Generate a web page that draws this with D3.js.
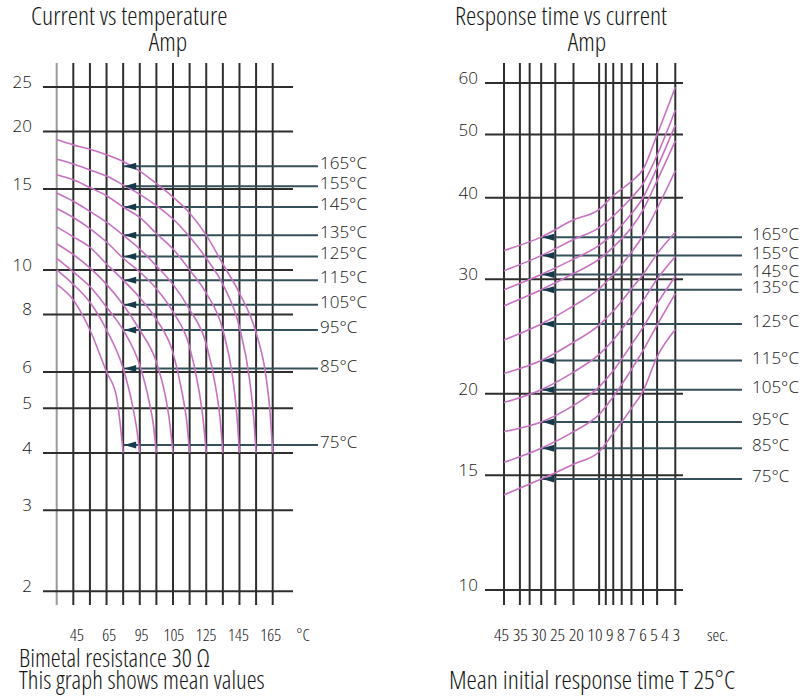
<!DOCTYPE html>
<html>
<head>
<meta charset="utf-8">
<script src="https://cdn.jsdelivr.net/npm/d3@7"></script>
<style>
    body { margin: 0; background: #fff; }
    text { font-family: "Open Sans", sans-serif; font-weight: 300; fill: #151515; }
    .narrow { font-stretch: 75%; }
</style>
</head>
<body>
<svg id="chart" width="806" height="697"></svg>
<script>
// ================= LEFT: current vs temperature ================= \\
const tempLabels = ['165°C', '155°C', '145°C', '135°C', '125°C', '115°C', '105°C', '95°C', '85°C', '75°C']
const tempGridSteps = d3.range(14)
const tempTickLabels = ['45', '65', '95', '105', '125', '145', '165', '°C']
const ampTicksLeft = [2, 3, 4, 5, 6, 8, 10, 15, 20, 25]
const markerAmpsLeft = [16.8, 15.2, 13.7, 11.9, 10.7, 9.5, 8.4, 7.4, 6.1, 4.16]

// [temperature grid step, Amp]
const curve165L = [[0, 19.2], [1, 18.7], [2, 18.3], [3, 17.8], [4, 17.2], [5, 16.4], [6, 15.4], [7, 14.4], [8, 13.3], [9, 11.9], [10, 10.3], [11, 8.9], [12, 7.3], [12.6, 5.85], [12.85, 4.86], [13, 4.0]]
const curve155L = [[0, 17.4], [1, 17.0], [2, 16.5], [3, 16.0], [4, 15.3], [5, 14.6], [6, 13.8], [7, 12.9], [8, 11.8], [9, 10.6], [10, 9.3], [11, 7.5], [11.6, 5.8], [11.85, 4.8], [12, 4.0]]
const curve145L = [[0, 16.1], [1, 15.7], [2, 15.1], [3, 14.5], [4, 13.7], [5, 13.0], [6, 12.0], [7, 11.1], [8, 10.0], [9, 8.9], [10, 7.4], [10.6, 5.8], [10.85, 4.8], [11, 4.0]]
const curve135L = [[0, 14.7], [1, 14.1], [2, 13.4], [3, 12.7], [4, 11.9], [5, 11.1], [6, 10.2], [7, 9.3], [8, 8.2], [9, 6.9], [9.55, 5.6], [9.82, 4.8], [10, 4.0]]
const curve125L = [[0, 13.6], [1, 13.0], [2, 12.3], [3, 11.5], [4, 10.6], [5, 9.9], [6, 9.1], [7, 8.1], [8, 6.8], [8.55, 5.5], [8.82, 4.7], [9, 4.0]]
const curve115L = [[0, 12.4], [1, 11.8], [2, 11.2], [3, 10.3], [4, 9.5], [5, 8.7], [6, 7.8], [7, 6.6], [7.55, 5.4], [7.82, 4.7], [8, 4.0]]
const curve105L = [[0, 11.4], [1, 10.8], [2, 10.1], [3, 9.3], [4, 8.4], [5, 7.4], [6, 6.3], [6.55, 5.3], [6.82, 4.6], [7, 4.0]]
const curve95L = [[0, 10.6], [1, 9.9], [2, 9.2], [3, 8.3], [4, 7.4], [5, 6.2], [5.55, 5.2], [5.82, 4.6], [6, 4.0]]
const curve85L = [[0, 10.0], [1, 9.3], [2, 8.5], [3, 7.4], [4, 6.1], [4.55, 5.1], [4.82, 4.5], [5, 4.0]]
const curve75L = [[0, 9.3], [1, 8.6], [2, 7.4], [3, 6.0], [3.6, 5.3], [3.8, 4.7], [4, 4.0]]
const curvesLeft = [curve165L, curve155L, curve145L, curve135L, curve125L, curve115L, curve105L, curve95L, curve85L, curve75L]

// ================= RIGHT: response time vs current ================= \\
const timeGrid = [45, 35, 30, 25, 20, 15, 10, 9, 8, 7, 6, 5, 4, 3]
const timeTickLabels = ['45', '35', '30', '25', '20', '10', '9', '8', '7', '6', '5', '4', '3']
const ampTicksRight = [10, 15, 20, 30, 40, 50, 60]
const markerAmpsRight = [34.8, 32.6, 30.5, 28.9, 25.6, 22.5, 20.3, 18.1, 16.5, 14.8]

// [seconds, Amp]
const curve165R = [[45, 33.2], [25, 34.8], [15, 37.0], [10, 38.4], [8, 40.3], [6, 42.4], [5, 44.2], [4, 50], [3, 59.1]]
const curve155R = [[45, 30.9], [25, 32.6], [15, 34.5], [10, 36], [8, 37.5], [6, 40], [5, 42], [4, 46.5], [3, 54.5]]
const curve145R = [[45, 28.9], [25, 30.5], [15, 32.2], [10, 33.8], [8, 35.2], [6, 37.8], [5, 40], [4, 44.5], [3, 51.7]]
const curve135R = [[45, 27.3], [25, 28.9], [15, 30.6], [10, 32.2], [8, 33.6], [6, 36], [5, 38.3], [4, 42.5], [3, 48.9]]
const curve125R = [[45, 24.2], [25, 25.6], [15, 27.3], [10, 29], [8, 30.5], [6, 33], [5, 35], [4, 38.5], [3, 44]]
const curve115R = [[45, 21.5], [25, 22.5], [15, 24], [10, 25.5], [8, 26.8], [6, 29], [5, 30.5], [4, 32.8], [3, 35.4]]
const curve105R = [[45, 19.4], [25, 20.3], [15, 21.6], [10, 23], [8, 24.2], [6, 26.3], [5, 27.8], [4, 30], [3, 32.5]]
const curve95R = [[45, 17.5], [25, 18.1], [15, 19.2], [10, 20.5], [8, 21.7], [6, 23.8], [5, 25.3], [4, 27.5], [3, 30.3]]
const curve85R = [[45, 15.7], [25, 16.5], [15, 17.5], [10, 18.6], [8, 19.8], [6, 21.8], [5, 23.3], [4, 25.5], [3, 28.5]]
const curve75R = [[45, 14.0], [25, 14.8], [15, 15.6], [10, 16.3], [8, 17.4], [6, 19], [5, 20.2], [4, 22.8], [3, 25.1]]
const curvesRight = [curve165R, curve155R, curve145R, curve135R, curve125R, curve115R, curve105R, curve95R, curve85R, curve75R]

const GRID = '#2e2e2e'
const MARKER = '#36505b'
const ARROW = '#163a4b'
const CURVE = '#c870c4'

const svg = d3.select('#chart')

function drawPanel(opts) {
    const g = svg.append('g')
    const { x, y, xValues, yTicks, gridX, gridTop, gridBottom, tickX, curves, markerAmps, markerX, markerEnd, labelX } = opts

    // ============ GRID ============== \\
    g.selectAll('line.vgrid')
        .data(xValues)
        .join('line')
        .attr('class', 'vgrid')
        .attr('x1', d => x(d)).attr('x2', d => x(d))
        .attr('y1', gridTop).attr('y2', gridBottom)
        .attr('stroke', (d, i) => (opts.lightFirst && i == 0) ? '#9a9a9a' : GRID)
        .attr('stroke-width', 2)

    g.selectAll('line.hgrid')
        .data(yTicks)
        .join('line')
        .attr('class', 'hgrid')
        .attr('x1', gridX[0]).attr('x2', gridX[1])
        .attr('y1', d => y(d)).attr('y2', d => y(d))
        .attr('stroke', GRID)
        .attr('stroke-width', 2)

    g.selectAll('text.ytick')
        .data(yTicks)
        .join('text')
        .attr('class', 'ytick')
        .attr('x', tickX)
        .attr('y', d => y(d) + 1)
        .attr('text-anchor', 'end')
        .attr('font-size', 17)
        .text(d => d)

    // ============ MARKER LINES ============== \\
    g.selectAll('line.marker')
        .data(markerAmps)
        .join('line')
        .attr('class', 'marker')
        .attr('x1', markerX).attr('x2', markerEnd)
        .attr('y1', d => y(d)).attr('y2', d => y(d))
        .attr('stroke', MARKER)
        .attr('stroke-width', 2)

    // ============ CURVES ============== \\
    const line = d3.line()
        .x(d => x(d[0]))
        .y(d => y(d[1]))
        .curve(d3.curveMonotoneX)

    g.selectAll('path.curve')
        .data(curves)
        .join('path')
        .attr('class', 'curve')
        .attr('d', line)
        .attr('fill', 'none')
        .attr('stroke', CURVE)
        .attr('stroke-width', 1.6)

    g.selectAll('path.arrow')
        .data(markerAmps)
        .join('path')
        .attr('class', 'arrow')
        .attr('d', d => `M${markerX + 1},${y(d)} L${markerX + 13},${y(d) - 3.5} L${markerX + 13},${y(d) + 3.5} Z`)
        .attr('fill', ARROW)

    g.selectAll('text.templabel')
        .data(tempLabels)
        .join('text')
        .attr('class', 'templabel')
        .attr('x', labelX)
        .attr('y', (d, i) => y(markerAmps[i]) + 3)
        .attr('font-size', 17)
        .text(d => d)
}

// left panel
const xLeft = d3.scaleLinear().domain([0, 13]).range([56.7, 272.7])
const yLeft = d3.scaleLog().domain([2, 25]).range([591.3, 86.9])

drawPanel({
    x: xLeft, y: yLeft, xValues: tempGridSteps, yTicks: ampTicksLeft,
    gridX: [43, 293], gridTop: 63, gridBottom: 605, tickX: 32,
    curves: curvesLeft, markerAmps: markerAmpsLeft,
    markerX: xLeft(4), markerEnd: 318, labelX: 320, lightFirst: true
})

const xTempLabels = d3.scalePoint().domain(tempTickLabels).range([77, 303])
svg.append('g').selectAll('text')
    .data(tempTickLabels)
    .join('text')
    .attr('class', 'narrow')
    .attr('x', d => xTempLabels(d))
    .attr('y', 641)
    .attr('text-anchor', 'middle')
    .attr('font-size', 17)
    .text(d => d)

// right panel
const xRight = d3.scaleLog().domain([45, 3]).range([504, 675.3])
const yRight = d3.scaleLog().domain([10, 60]).range([590, 83])

drawPanel({
    x: xRight, y: yRight, xValues: timeGrid, yTicks: ampTicksRight,
    gridX: [485, 683], gridTop: 63, gridBottom: 605, tickX: 478,
    curves: curvesRight, markerAmps: markerAmpsRight,
    markerX: xRight(25), markerEnd: 742, labelX: 752, lightFirst: false
})

svg.append('text')
    .attr('class', 'narrow')
    .attr('x', 494).attr('y', 641)
    .attr('font-size', 17)
    .attr('textLength', 186)
    .attr('lengthAdjust', 'spacingAndGlyphs')
    .text(timeTickLabels.join(' '))

svg.append('text').attr('class', 'narrow').attr('x', 707).attr('y', 641).attr('font-size', 17).text('sec.')

// ============ TITLES / NOTES ============== \\
const notes = [
    { text: 'Current vs temperature', x: 31, y: 25, size: 26 },
    { text: 'Amp', x: 168, y: 51, size: 26, anchor: 'middle' },
    { text: 'Response time vs current', x: 455, y: 25, size: 26 },
    { text: 'Amp', x: 587, y: 51, size: 26, anchor: 'middle' },
    { text: 'Bimetal resistance 30 Ω', x: 19, y: 667, size: 25 },
    { text: 'This graph shows mean values', x: 19, y: 689, size: 25 },
    { text: 'Mean initial response time T 25°C', x: 449, y: 689, size: 26 }
]

svg.append('g').selectAll('text')
    .data(notes)
    .join('text')
    .attr('class', 'narrow')
    .attr('x', d => d.x)
    .attr('y', d => d.y)
    .attr('text-anchor', d => d.anchor || 'start')
    .attr('font-size', d => d.size)
    .text(d => d.text)
</script>
</body>
</html>
